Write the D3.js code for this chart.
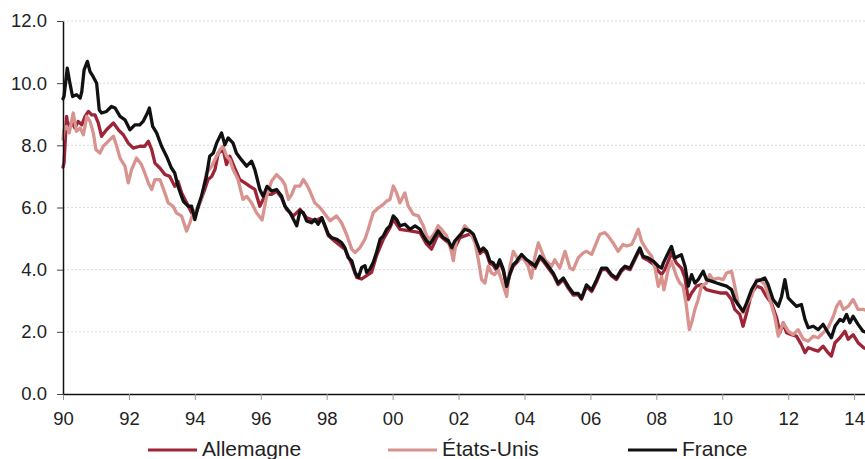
<!DOCTYPE html>
<html>
<head>
<meta charset="utf-8">
<script src="https://cdn.jsdelivr.net/npm/d3@7/dist/d3.min.js"></script>
<style>
  html, body { margin: 0; padding: 0; background: #fff; }
  svg { display: block; font-family: "Liberation Sans", Arial, Helvetica, sans-serif; }
</style>
</head>
<body>
<svg id="chart" width="865" height="459"></svg>
<script>
// ---------- DATA ----------
const seriesNames = ["Allemagne", "États-Unis", "France"];
const xTickYears = [1990, 1992, 1994, 1996, 1998, 2000, 2002, 2004, 2006, 2008, 2010, 2012, 2014];
const xTickLabels = ["90", "92", "94", "96", "98", "00", "02", "04", "06", "08", "10", "12", "14"];
const yTicks = [0, 2, 4, 6, 8, 10, 12];
const yTickLabels = ["0.0", "2.0", "4.0", "6.0", "8.0", "10.0", "12.0"];

// [decimal year, yield %]
const allemagne = [
  [1990.0,7.3],[1990.03,7.43],[1990.11,8.93],[1990.16,8.5],[1990.26,8.77],[1990.36,8.56],[1990.46,8.77],
  [1990.57,8.66],[1990.67,8.93],[1990.77,9.09],[1990.87,8.98],[1990.97,8.98],[1991.07,8.72],[1991.17,8.29],
  [1991.32,8.5],[1991.53,8.72],[1991.68,8.5],[1991.83,8.34],[1991.98,8.07],[1992.13,7.91],[1992.33,7.97],
  [1992.48,7.97],[1992.59,8.13],[1992.69,7.86],[1992.79,7.43],[1992.94,7.27],[1993.09,7.06],[1993.24,7.0],
  [1993.39,6.68],[1993.49,6.84],[1993.6,6.47],[1993.75,6.15],[1993.9,5.83],[1994.0,5.72],[1994.15,6.15],
  [1994.3,6.58],[1994.4,6.9],[1994.51,7.0],[1994.61,7.22],[1994.71,7.75],[1994.86,7.86],[1994.96,7.38],
  [1995.06,7.65],[1995.21,7.27],[1995.36,6.9],[1995.52,6.79],[1995.67,6.68],[1995.82,6.58],[1995.97,6.04],
  [1996.07,6.26],[1996.18,6.42],[1996.33,6.42],[1996.48,6.53],[1996.63,6.31],[1996.78,5.94],[1996.99,5.73],
  [1997.19,5.94],[1997.39,5.67],[1997.64,5.57],[1997.85,5.67],[1998.05,5.09],[1998.3,4.87],[1998.55,4.66],
  [1998.76,4.18],[1998.91,3.75],[1999.06,3.7],[1999.21,3.81],[1999.36,3.91],[1999.51,4.45],[1999.72,4.98],
  [1999.92,5.35],[2000.02,5.62],[2000.22,5.3],[2000.53,5.25],[2000.83,5.19],[2001.03,4.82],[2001.18,4.66],
  [2001.38,5.14],[2001.69,4.87],[2001.84,4.61],[2002.04,5.03],[2002.33,5.14],[2002.45,5.08],[2002.55,4.8],
  [2002.65,4.52],[2002.75,4.62],[2002.85,4.52],[2002.95,4.2],[2003.05,4.15],[2003.15,3.98],[2003.25,4.25],
  [2003.36,3.95],[2003.46,3.45],[2003.56,3.85],[2003.66,4.12],[2003.76,4.22],[2003.91,4.42],[2004.06,4.25],
  [2004.21,4.16],[2004.32,4.05],[2004.47,4.38],[2004.57,4.27],[2004.72,4.05],[2004.87,3.84],[2005.02,3.52],
  [2005.18,3.68],[2005.33,3.4],[2005.48,3.18],[2005.63,3.2],[2005.73,3.05],[2005.88,3.45],[2006.04,3.3],
  [2006.19,3.62],[2006.34,4.0],[2006.49,4.0],[2006.64,3.8],[2006.79,3.68],[2006.94,3.95],[2007.05,4.06],
  [2007.2,4.0],[2007.35,4.33],[2007.5,4.65],[2007.6,4.38],[2007.75,4.3],[2007.91,4.18],[2008.06,3.95],
  [2008.16,3.85],[2008.26,4.0],[2008.46,4.53],[2008.61,4.21],[2008.76,4.05],[2008.87,3.73],[2008.97,3.04],
  [2009.07,3.25],[2009.22,3.47],[2009.37,3.52],[2009.52,3.36],[2009.72,3.3],[2009.93,3.25],[2010.13,3.25],
  [2010.28,3.04],[2010.38,2.72],[2010.53,2.56],[2010.63,2.18],[2010.74,2.61],[2010.89,3.25],[2011.04,3.47],
  [2011.19,3.41],[2011.34,3.14],[2011.49,2.93],[2011.65,2.45],[2011.75,1.97],[2011.85,2.29],[2011.95,1.97],
  [2012.1,1.91],[2012.25,1.86],[2012.4,1.59],[2012.51,1.33],[2012.61,1.49],[2012.76,1.43],[2012.91,1.38],
  [2013.06,1.54],[2013.21,1.33],[2013.31,1.22],[2013.42,1.65],[2013.57,1.81],[2013.72,2.02],[2013.82,1.76],
  [2013.97,1.91],[2014.12,1.65],[2014.29,1.49],[2014.33,1.47]
];

const etatsUnis = [
  [1990.0,8.2],[1990.03,8.5],[1990.11,8.61],[1990.19,8.4],[1990.31,9.04],[1990.41,8.45],[1990.52,8.56],
  [1990.62,8.34],[1990.72,8.93],[1990.82,8.77],[1990.92,8.4],[1991.0,7.86],[1991.12,7.75],[1991.22,7.97],
  [1991.37,8.13],[1991.53,8.29],[1991.63,7.97],[1991.73,7.59],[1991.88,7.33],[1991.98,6.79],[1992.08,7.22],
  [1992.23,7.59],[1992.38,7.38],[1992.48,7.11],[1992.59,6.79],[1992.69,6.58],[1992.79,6.9],[1992.94,6.9],
  [1993.09,6.47],[1993.19,6.15],[1993.34,6.04],[1993.44,5.83],[1993.6,5.72],[1993.75,5.24],[1993.85,5.51],
  [1993.95,5.83],[1994.05,5.94],[1994.2,6.26],[1994.35,7.11],[1994.51,7.33],[1994.66,7.65],[1994.76,7.86],
  [1994.86,7.97],[1994.96,7.65],[1995.06,7.54],[1995.16,7.22],[1995.31,6.9],[1995.46,6.26],[1995.57,6.36],
  [1995.72,6.15],[1995.87,5.83],[1996.04,5.6],[1996.18,6.37],[1996.33,6.85],[1996.48,7.06],[1996.63,6.9],
  [1996.73,6.74],[1996.84,6.26],[1996.94,6.42],[1997.04,6.69],[1997.19,6.69],[1997.29,6.9],[1997.39,6.74],
  [1997.49,6.53],[1997.64,6.15],[1997.8,5.99],[1997.95,5.78],[1998.1,5.57],[1998.3,5.73],[1998.45,5.51],
  [1998.6,5.14],[1998.76,4.66],[1998.86,4.55],[1999.01,4.71],[1999.16,4.98],[1999.26,5.3],[1999.41,5.83],
  [1999.57,5.99],[1999.72,6.1],[1999.82,6.21],[1999.92,6.26],[2000.02,6.69],[2000.12,6.47],[2000.22,6.15],
  [2000.37,6.47],[2000.47,6.05],[2000.63,5.78],[2000.78,5.73],[2000.93,5.41],[2001.03,5.09],[2001.13,4.98],
  [2001.28,5.19],[2001.38,5.41],[2001.48,5.3],[2001.64,5.09],[2001.79,4.55],[2001.84,4.29],[2001.94,4.98],
  [2002.09,5.19],[2002.19,5.41],[2002.34,5.24],[2002.5,4.86],[2002.6,4.32],[2002.7,3.68],[2002.8,3.57],
  [2002.9,4.11],[2003.0,3.89],[2003.1,3.84],[2003.2,4.0],[2003.3,3.68],[2003.46,3.14],[2003.56,4.11],
  [2003.66,4.59],[2003.81,4.32],[2003.96,4.38],[2004.11,4.11],[2004.21,3.73],[2004.32,4.43],[2004.42,4.86],
  [2004.52,4.59],[2004.62,4.32],[2004.72,4.22],[2004.82,4.11],[2004.92,4.32],[2005.07,4.05],[2005.23,4.59],
  [2005.38,4.05],[2005.48,4.0],[2005.63,4.38],[2005.78,4.54],[2005.88,4.59],[2006.04,4.49],[2006.14,4.76],
  [2006.29,5.14],[2006.44,5.19],[2006.54,5.08],[2006.69,4.86],[2006.84,4.59],[2006.99,4.81],[2007.1,4.76],
  [2007.25,4.81],[2007.35,5.03],[2007.45,5.3],[2007.55,4.92],[2007.7,4.65],[2007.86,4.43],[2007.96,4.05],
  [2008.06,3.46],[2008.16,3.78],[2008.23,3.35],[2008.36,4.0],[2008.46,4.27],[2008.61,3.79],[2008.71,3.57],
  [2008.81,3.47],[2008.9,2.93],[2009.0,2.07],[2009.07,2.29],[2009.17,2.72],[2009.27,3.04],[2009.37,3.47],
  [2009.52,3.57],[2009.62,3.84],[2009.72,3.68],[2009.88,3.73],[2010.03,3.68],[2010.13,3.89],[2010.28,3.95],
  [2010.38,3.47],[2010.48,2.93],[2010.63,2.61],[2010.74,2.88],[2010.89,3.14],[2011.04,3.68],[2011.14,3.68],
  [2011.29,3.52],[2011.44,3.04],[2011.59,2.5],[2011.7,1.86],[2011.85,2.29],[2012.0,2.02],[2012.15,1.91],
  [2012.3,2.07],[2012.46,1.76],[2012.61,1.7],[2012.76,1.86],[2012.91,1.81],[2013.06,1.97],[2013.21,2.13],
  [2013.37,2.5],[2013.47,2.82],[2013.57,2.98],[2013.67,2.72],[2013.82,2.82],[2013.97,3.04],[2014.12,2.72],
  [2014.29,2.72],[2014.33,2.7]
];

const france = [
  [1990.0,9.5],[1990.03,9.57],[1990.13,10.48],[1990.21,10.0],[1990.29,9.57],[1990.41,9.63],[1990.52,9.52],
  [1990.57,9.73],[1990.64,10.43],[1990.74,10.7],[1990.82,10.37],[1990.92,10.2],[1991.02,10.0],[1991.1,9.14],
  [1991.17,9.04],[1991.32,9.09],[1991.47,9.25],[1991.58,9.2],[1991.73,8.93],[1991.88,8.82],[1992.03,8.5],
  [1992.18,8.66],[1992.33,8.66],[1992.43,8.77],[1992.56,9.04],[1992.62,9.2],[1992.72,8.61],[1992.84,8.4],
  [1992.99,7.97],[1993.14,7.65],[1993.29,7.27],[1993.39,7.11],[1993.49,6.68],[1993.65,6.2],[1993.8,6.04],
  [1993.9,6.04],[1994.0,5.61],[1994.1,6.04],[1994.2,6.36],[1994.35,7.0],[1994.45,7.65],[1994.56,7.75],
  [1994.66,8.07],[1994.81,8.4],[1994.91,8.02],[1995.01,8.24],[1995.16,8.07],[1995.26,7.75],[1995.41,7.54],
  [1995.57,7.33],[1995.72,7.49],[1995.82,7.22],[1995.97,6.58],[1996.07,6.36],[1996.19,6.68],[1996.33,6.53],
  [1996.48,6.58],[1996.63,6.37],[1996.73,6.05],[1996.89,5.83],[1996.99,5.62],[1997.09,5.41],[1997.19,5.89],
  [1997.29,5.83],[1997.39,5.57],[1997.54,5.51],[1997.64,5.62],[1997.74,5.46],[1997.85,5.67],[1997.95,5.41],
  [1998.05,5.14],[1998.15,5.03],[1998.3,4.98],[1998.45,4.87],[1998.55,4.71],[1998.65,4.39],[1998.76,4.29],
  [1998.86,3.91],[1998.96,3.75],[1999.06,4.07],[1999.16,4.13],[1999.21,3.91],[1999.31,4.02],[1999.41,4.23],
  [1999.51,4.55],[1999.62,4.98],[1999.72,5.09],[1999.82,5.3],[1999.92,5.41],[2000.02,5.73],[2000.12,5.62],
  [2000.22,5.41],[2000.37,5.46],[2000.53,5.3],[2000.68,5.41],[2000.83,5.3],[2000.93,5.09],[2001.03,4.93],
  [2001.13,4.82],[2001.23,4.98],[2001.38,5.25],[2001.54,5.03],[2001.69,4.93],[2001.79,4.71],[2001.89,4.93],
  [2002.04,5.1],[2002.19,5.3],[2002.33,5.25],[2002.45,5.14],[2002.55,4.86],[2002.65,4.59],[2002.75,4.7],
  [2002.85,4.59],[2002.95,4.27],[2003.05,4.22],[2003.15,4.05],[2003.25,4.32],[2003.36,4.0],[2003.46,3.46],
  [2003.56,3.89],[2003.66,4.16],[2003.76,4.27],[2003.91,4.49],[2004.06,4.32],[2004.21,4.22],[2004.32,4.11],
  [2004.47,4.43],[2004.57,4.32],[2004.72,4.11],[2004.87,3.89],[2005.02,3.57],[2005.18,3.73],[2005.33,3.46],
  [2005.48,3.24],[2005.63,3.24],[2005.73,3.08],[2005.88,3.51],[2006.04,3.35],[2006.19,3.68],[2006.34,4.05],
  [2006.49,4.05],[2006.64,3.84],[2006.79,3.73],[2006.94,4.0],[2007.05,4.11],[2007.2,4.05],[2007.35,4.38],
  [2007.5,4.7],[2007.6,4.43],[2007.75,4.38],[2007.91,4.27],[2008.06,4.11],[2008.16,4.05],[2008.21,4.21],
  [2008.31,4.43],[2008.46,4.75],[2008.56,4.37],[2008.66,4.43],[2008.76,4.48],[2008.87,4.11],[2008.97,3.47],
  [2009.07,3.84],[2009.17,3.57],[2009.27,3.68],[2009.42,3.95],[2009.52,3.68],[2009.67,3.63],[2009.83,3.57],
  [2009.98,3.52],[2010.13,3.47],[2010.28,3.36],[2010.38,3.04],[2010.48,2.88],[2010.63,2.66],[2010.74,2.93],
  [2010.89,3.36],[2011.04,3.63],[2011.19,3.68],[2011.29,3.73],[2011.39,3.52],[2011.54,3.04],[2011.7,2.82],
  [2011.8,3.14],[2011.9,3.68],[2012.0,3.09],[2012.1,2.98],[2012.25,2.82],[2012.4,2.88],[2012.51,2.4],
  [2012.61,2.13],[2012.76,2.18],[2012.91,2.07],[2013.06,2.24],[2013.21,1.97],[2013.31,1.81],[2013.42,2.18],
  [2013.57,2.4],[2013.67,2.34],[2013.77,2.56],[2013.87,2.29],[2013.97,2.5],[2014.12,2.24],[2014.27,2.02],
  [2014.33,2.0]
];

// ---------- STYLE / LAYOUT ----------
const colors = ["#9e2438", "#d9938f", "#111111"];
const plotLeft = 63, plotRight = 865, plotTop = 21, plotBottom = 394;

const svg = d3.select("#chart");
const x = d3.scaleLinear().domain([1990, 2014.33]).range([plotLeft, plotRight]);
const y = d3.scaleLinear().domain([0, 12]).range([plotBottom, plotTop]);

// gridlines
svg.append("g").selectAll("line").data(yTicks.filter(d => d > 0)).join("line")
  .attr("x1", plotLeft).attr("x2", plotRight)
  .attr("y1", d => y(d)).attr("y2", d => y(d))
  .attr("stroke", "#d9d9d9").attr("stroke-width", 1).attr("stroke-dasharray", "2,2");

// lines
const line = d3.line().x(d => x(d[0])).y(d => y(d[1])).curve(d3.curveLinear);
const allSeries = [allemagne, etatsUnis, france];
allSeries.forEach((s, i) => {
  svg.append("path").datum(s)
    .attr("d", line)
    .attr("fill", "none")
    .attr("stroke", colors[i])
    .attr("stroke-width", 3.3)
    .attr("stroke-linejoin", "round")
    .attr("stroke-linecap", "round");
});

// x axis
const xAxis = d3.axisBottom(x)
  .tickValues(xTickYears)
  .tickFormat((d, i) => xTickLabels[i])
  .tickSize(6).tickPadding(12).tickSizeOuter(0);
const gx = svg.append("g").attr("transform", `translate(0,${plotBottom})`).call(xAxis);
gx.select(".domain").attr("stroke", "#111").attr("stroke-width", 1.5);
gx.selectAll(".tick line").attr("stroke", "#999").attr("stroke-width", 1);
gx.selectAll(".tick text").attr("font-size", 18.5).attr("fill", "#222")
  .attr("font-family", "'Liberation Sans', Arial, sans-serif");

// y axis
const yAxis = d3.axisLeft(y)
  .tickValues(yTicks)
  .tickFormat((d, i) => yTickLabels[i])
  .tickSize(6).tickPadding(10).tickSizeOuter(0);
const gy = svg.append("g").attr("transform", `translate(${plotLeft},0)`).call(yAxis);
gy.select(".domain").attr("stroke", "#111").attr("stroke-width", 1.5);
gy.selectAll(".tick line").attr("stroke", "#444").attr("stroke-width", 1);
gy.selectAll(".tick text").attr("font-size", 18.5).attr("fill", "#222")
  .attr("font-family", "'Liberation Sans', Arial, sans-serif");

// legend
const legendX = [148, 388, 628];
const lg = svg.append("g");
seriesNames.forEach((name, i) => {
  lg.append("line")
    .attr("x1", legendX[i]).attr("x2", legendX[i] + 49)
    .attr("y1", 450).attr("y2", 450)
    .attr("stroke", colors[i]).attr("stroke-width", 3);
  lg.append("text")
    .attr("x", legendX[i] + 54).attr("y", 456)
    .attr("font-size", 21).attr("fill", "#222")
    .text(name);
});
</script>
</body>
</html>
